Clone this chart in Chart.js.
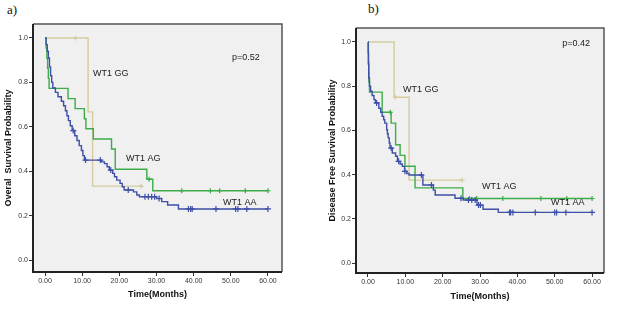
<!DOCTYPE html>
<html>
<head>
<meta charset="utf-8">
<script src="https://cdn.jsdelivr.net/npm/chart.js@4.4.1/dist/chart.umd.min.js"></script>
<style>
  body { margin: 0; background: #fff; width: 628px; height: 321px; position: relative; overflow: hidden; }
  .panel { position: absolute; top: 0; height: 321px; }
  .tag { position: absolute; font-family: "Liberation Serif", "Times New Roman", serif; font-size: 13px; color: #111; }
</style>
</head>
<body>
<div class="tag" style="left:7px;top:2px">a)</div>
<div class="tag" style="left:368px;top:1px">b)</div>
<div class="panel" style="left:0;width:300px"><canvas id="os"></canvas></div>
<div class="panel" style="left:310px;width:318px"><canvas id="dfs"></canvas></div>

<script>
// ---- tick labels ----
const xTicks = [0, 10, 20, 30, 40, 50, 60];
const yTicks = [0, 0.2, 0.4, 0.6, 0.8, 1.0];

// ---- a) overall survival ----
const osAAtime = [0, 0.3, 0.6, 0.9, 1.2, 1.5, 1.8, 2.1, 2.8, 3.5, 4.4, 5.0, 5.5, 5.9, 6.3, 6.8, 7.3, 8.0, 8.6, 9.2, 9.8, 10.2, 10.6, 15.2, 16.0, 16.7, 17.3, 18.2, 18.7, 19.3, 20.2, 20.8, 21.3, 23.8, 24.7, 25.4, 30.0, 31.4, 33.0, 35.9, 60];
const osAAsurv = [1, 0.97, 0.94, 0.91, 0.87, 0.83, 0.80, 0.775, 0.755, 0.735, 0.715, 0.695, 0.672, 0.65, 0.628, 0.605, 0.583, 0.56, 0.538, 0.515, 0.493, 0.47, 0.45, 0.442, 0.434, 0.42, 0.405, 0.39, 0.375, 0.36, 0.345, 0.33, 0.315, 0.307, 0.293, 0.285, 0.277, 0.263, 0.248, 0.23, 0.23];
const osAAcens = [7.6, 10.9, 14.9, 17.7, 22.4, 26.9, 27.8, 28.7, 29.5, 30.7, 38.6, 39.2, 39.6, 46.0, 51.3, 51.9, 54.3, 60];

const osAGtime = [0, 0.3, 0.5, 0.7, 0.9, 1.1, 6.2, 8.1, 10.6, 11.0, 13.0, 17.9, 18.9, 27.4, 29.0, 60];
const osAGsurv = [1, 0.955, 0.909, 0.864, 0.818, 0.773, 0.727, 0.682, 0.636, 0.591, 0.545, 0.5, 0.409, 0.364, 0.312, 0.312];
const osAGcens = [28.0, 36.8, 44.5, 47.0, 53.9, 60];

const osGGtime = [0, 11.6, 12.8, 25.9];
const osGGsurv = [1, 0.667, 0.333, 0.333];
const osGGcens = [8.2, 25.9];

// ---- b) disease free survival ----
const dfsAAtime = [0, 0.05, 0.1, 0.2, 0.4, 0.7, 1.1, 1.6, 2.0, 2.9, 3.4, 3.8, 4.2, 4.5, 5.0, 5.2, 5.4, 5.7, 5.9, 6.5, 7.4, 7.9, 8.6, 9.2, 9.8, 10.4, 11.0, 14.7, 17.5, 18.0, 23.3, 25.5, 29.2, 30.8, 34.9, 60];
const dfsAAsurv = [1, 0.95, 0.9, 0.837, 0.80, 0.777, 0.758, 0.739, 0.724, 0.70, 0.682, 0.664, 0.648, 0.633, 0.603, 0.585, 0.566, 0.543, 0.52, 0.498, 0.483, 0.46, 0.448, 0.437, 0.415, 0.405, 0.398, 0.353, 0.33, 0.308, 0.293, 0.285, 0.262, 0.243, 0.229, 0.229];
const dfsAAcens = [2.3, 6.2, 8.2, 9.9, 14.3, 17.0, 24.9, 26.9, 27.8, 28.7, 29.6, 30.1, 37.9, 38.2, 38.8, 44.8, 50.0, 50.5, 53.0, 60];

const dfsAGtime = [0, 0.1, 0.15, 0.2, 0.25, 0.4, 3.8, 6.2, 7.4, 8.6, 9.9, 12.6, 25.4, 60];
const dfsAGsurv = [1, 0.955, 0.909, 0.864, 0.818, 0.773, 0.682, 0.633, 0.535, 0.487, 0.438, 0.34, 0.292, 0.292];
const dfsAGcens = [6.0, 27.2, 29.1, 36.1, 46.3, 53.2, 60];

const dfsGGtime = [0, 7.0, 11.0, 25.2];
const dfsGGsurv = [1, 0.75, 0.375, 0.375];
const dfsGGcens = [7.3, 25.2];

// text inside the plots: [text, time, probability]
const osNotes = [['p=0.52', 50.3, 0.914], ['WT1 GG', 12.9, 0.838], ['WT1 AG', 21.8, 0.455], ['WT1 AA', 47.9, 0.261]];
const dfsNotes = [['p=0.42', 52.0, 0.991], ['WT1 GG', 9.4, 0.787], ['WT1 AG', 30.5, 0.348], ['WT1 AA', 49.0, 0.276]];

const colAA = '#3d4fa6';
const colAG = '#3dab48';
const colGG = '#d4cc9e';

// survival value at time t (last step at or before t)
function survAt(times, surv, t) {
  let s = surv[0];
  for (let i = 0; i < times.length; i++) {
    if (times[i] <= t) s = surv[i];
  }
  return s;
}

function curve(times, surv, color) {
  return {
    data: times.map((t, i) => ({ x: t, y: surv[i] })),
    showLine: true, stepped: true,
    borderColor: color, borderWidth: 1.4,
    pointRadius: 0, fill: false
  };
}

function censors(times, surv, cens, color, size) {
  return {
    data: cens.map(c => ({ x: c, y: survAt(times, surv, c) })),
    showLine: false,
    pointStyle: 'cross', pointRadius: size,
    borderColor: color, borderWidth: 1.2, backgroundColor: color
  };
}

// grey plot area, frame, in-plot notes
const kmFrame = {
  id: 'kmFrame',
  beforeDraw(chart) {
    const a = chart.chartArea, ctx = chart.ctx;
    ctx.save();
    ctx.fillStyle = '#f0f0f0';
    ctx.fillRect(a.left, a.top, a.right - a.left, a.bottom - a.top);
    ctx.restore();
  },
  afterDraw(chart, args, opts) {
    const a = chart.chartArea, ctx = chart.ctx;
    ctx.save();
    ctx.strokeStyle = '#555';
    ctx.lineWidth = 1.5;
    ctx.beginPath();
    ctx.moveTo(a.left, a.top); ctx.lineTo(a.right, a.top); ctx.lineTo(a.right, a.bottom);
    ctx.stroke();
    ctx.strokeStyle = '#222';
    ctx.lineWidth = 2;
    ctx.beginPath();
    ctx.moveTo(a.left, a.top); ctx.lineTo(a.left, a.bottom); ctx.lineTo(a.right, a.bottom);
    ctx.stroke();
    ctx.fillStyle = '#1a1a1a';
    ctx.font = '9px "Liberation Sans", Arial, sans-serif';
    ctx.textBaseline = 'middle';
    (opts.notes || []).forEach(n => {
      ctx.fillText(n[0], chart.scales.x.getPixelForValue(n[1]), chart.scales.y.getPixelForValue(n[2]));
    });
    ctx.restore();
  }
};

function makeChart(id, sets, notes, box) {
  return new Chart(document.getElementById(id), {
    type: 'scatter',
    data: { datasets: sets },
    plugins: [kmFrame],
    options: {
      responsive: true, maintainAspectRatio: false, animation: false,
      layout: { padding: { top: box.top, right: box.right, left: 0, bottom: 0 } },
      plugins: { legend: { display: false }, tooltip: { enabled: false }, kmFrame: { notes: notes } },
      scales: {
        x: {
          type: 'linear', min: box.xmin, max: box.xmax,
          afterBuildTicks: s => { s.ticks = xTicks.map(v => ({ value: v })); },
          afterFit: s => { s.height = box.xh; },
          ticks: { callback: v => v.toFixed(2), color: '#333', font: { family: '"Liberation Sans", Arial', size: 7 }, padding: 1, maxRotation: 0 },
          grid: { drawOnChartArea: false, drawTicks: true, tickLength: 4, color: '#333' },
          border: { display: false },
          title: { display: true, text: 'Time(Months)', color: '#111', font: { family: '"Liberation Sans", Arial', size: 9, weight: 'bold' }, padding: { top: 0, bottom: box.xtp } }
        },
        y: {
          type: 'linear', min: box.ymin, max: box.ymax,
          afterBuildTicks: s => { s.ticks = yTicks.map(v => ({ value: v })); },
          afterFit: s => { s.width = box.yw; },
          ticks: { callback: v => v.toFixed(1), color: '#333', font: { family: '"Liberation Sans", Arial', size: 7 }, padding: 1 },
          grid: { drawOnChartArea: false, drawTicks: true, tickLength: 4, color: '#333' },
          border: { display: false },
          title: { display: true, text: box.ytitle, color: '#111', font: { family: '"Liberation Sans", Arial', size: 9, weight: 'bold' }, padding: { top: box.ytp, bottom: 0 } }
        }
      }
    }
  });
}

makeChart('os', [
  curve(osAAtime, osAAsurv, colAA),
  censors(osAAtime, osAAsurv, osAAcens, colAA, 3),
  curve(osAGtime, osAGsurv, colAG),
  censors(osAGtime, osAGsurv, osAGcens, colAG, 2.5),
  curve(osGGtime, osGGsurv, colGG),
  censors(osGGtime, osGGsurv, osGGcens, colGG, 2.5)
], osNotes, {
  top: 24, right: 18, xh: 49, yw: 33, xtp: 20.6, ytp: 3.6,
  xmin: -3.23, xmax: 63.77, ymin: -0.054, ymax: 1.063,
  ytitle: 'Overal  Survival Probability'
});

makeChart('dfs', [
  curve(dfsAAtime, dfsAAsurv, colAA),
  censors(dfsAAtime, dfsAAsurv, dfsAAcens, colAA, 3),
  curve(dfsAGtime, dfsAGsurv, colAG),
  censors(dfsAGtime, dfsAGsurv, dfsAGcens, colAG, 2.5),
  curve(dfsGGtime, dfsGGsurv, colGG),
  censors(dfsGGtime, dfsGGsurv, dfsGGcens, colGG, 2.5)
], dfsNotes, {
  top: 28, right: 24, xh: 48, yw: 46, xtp: 18.6, ytp: 17.6,
  xmin: -3.21, xmax: 63.2, ymin: -0.045, ymax: 1.063,
  ytitle: 'Disease Free Survival Probability'
});
</script>
</body>
</html>
